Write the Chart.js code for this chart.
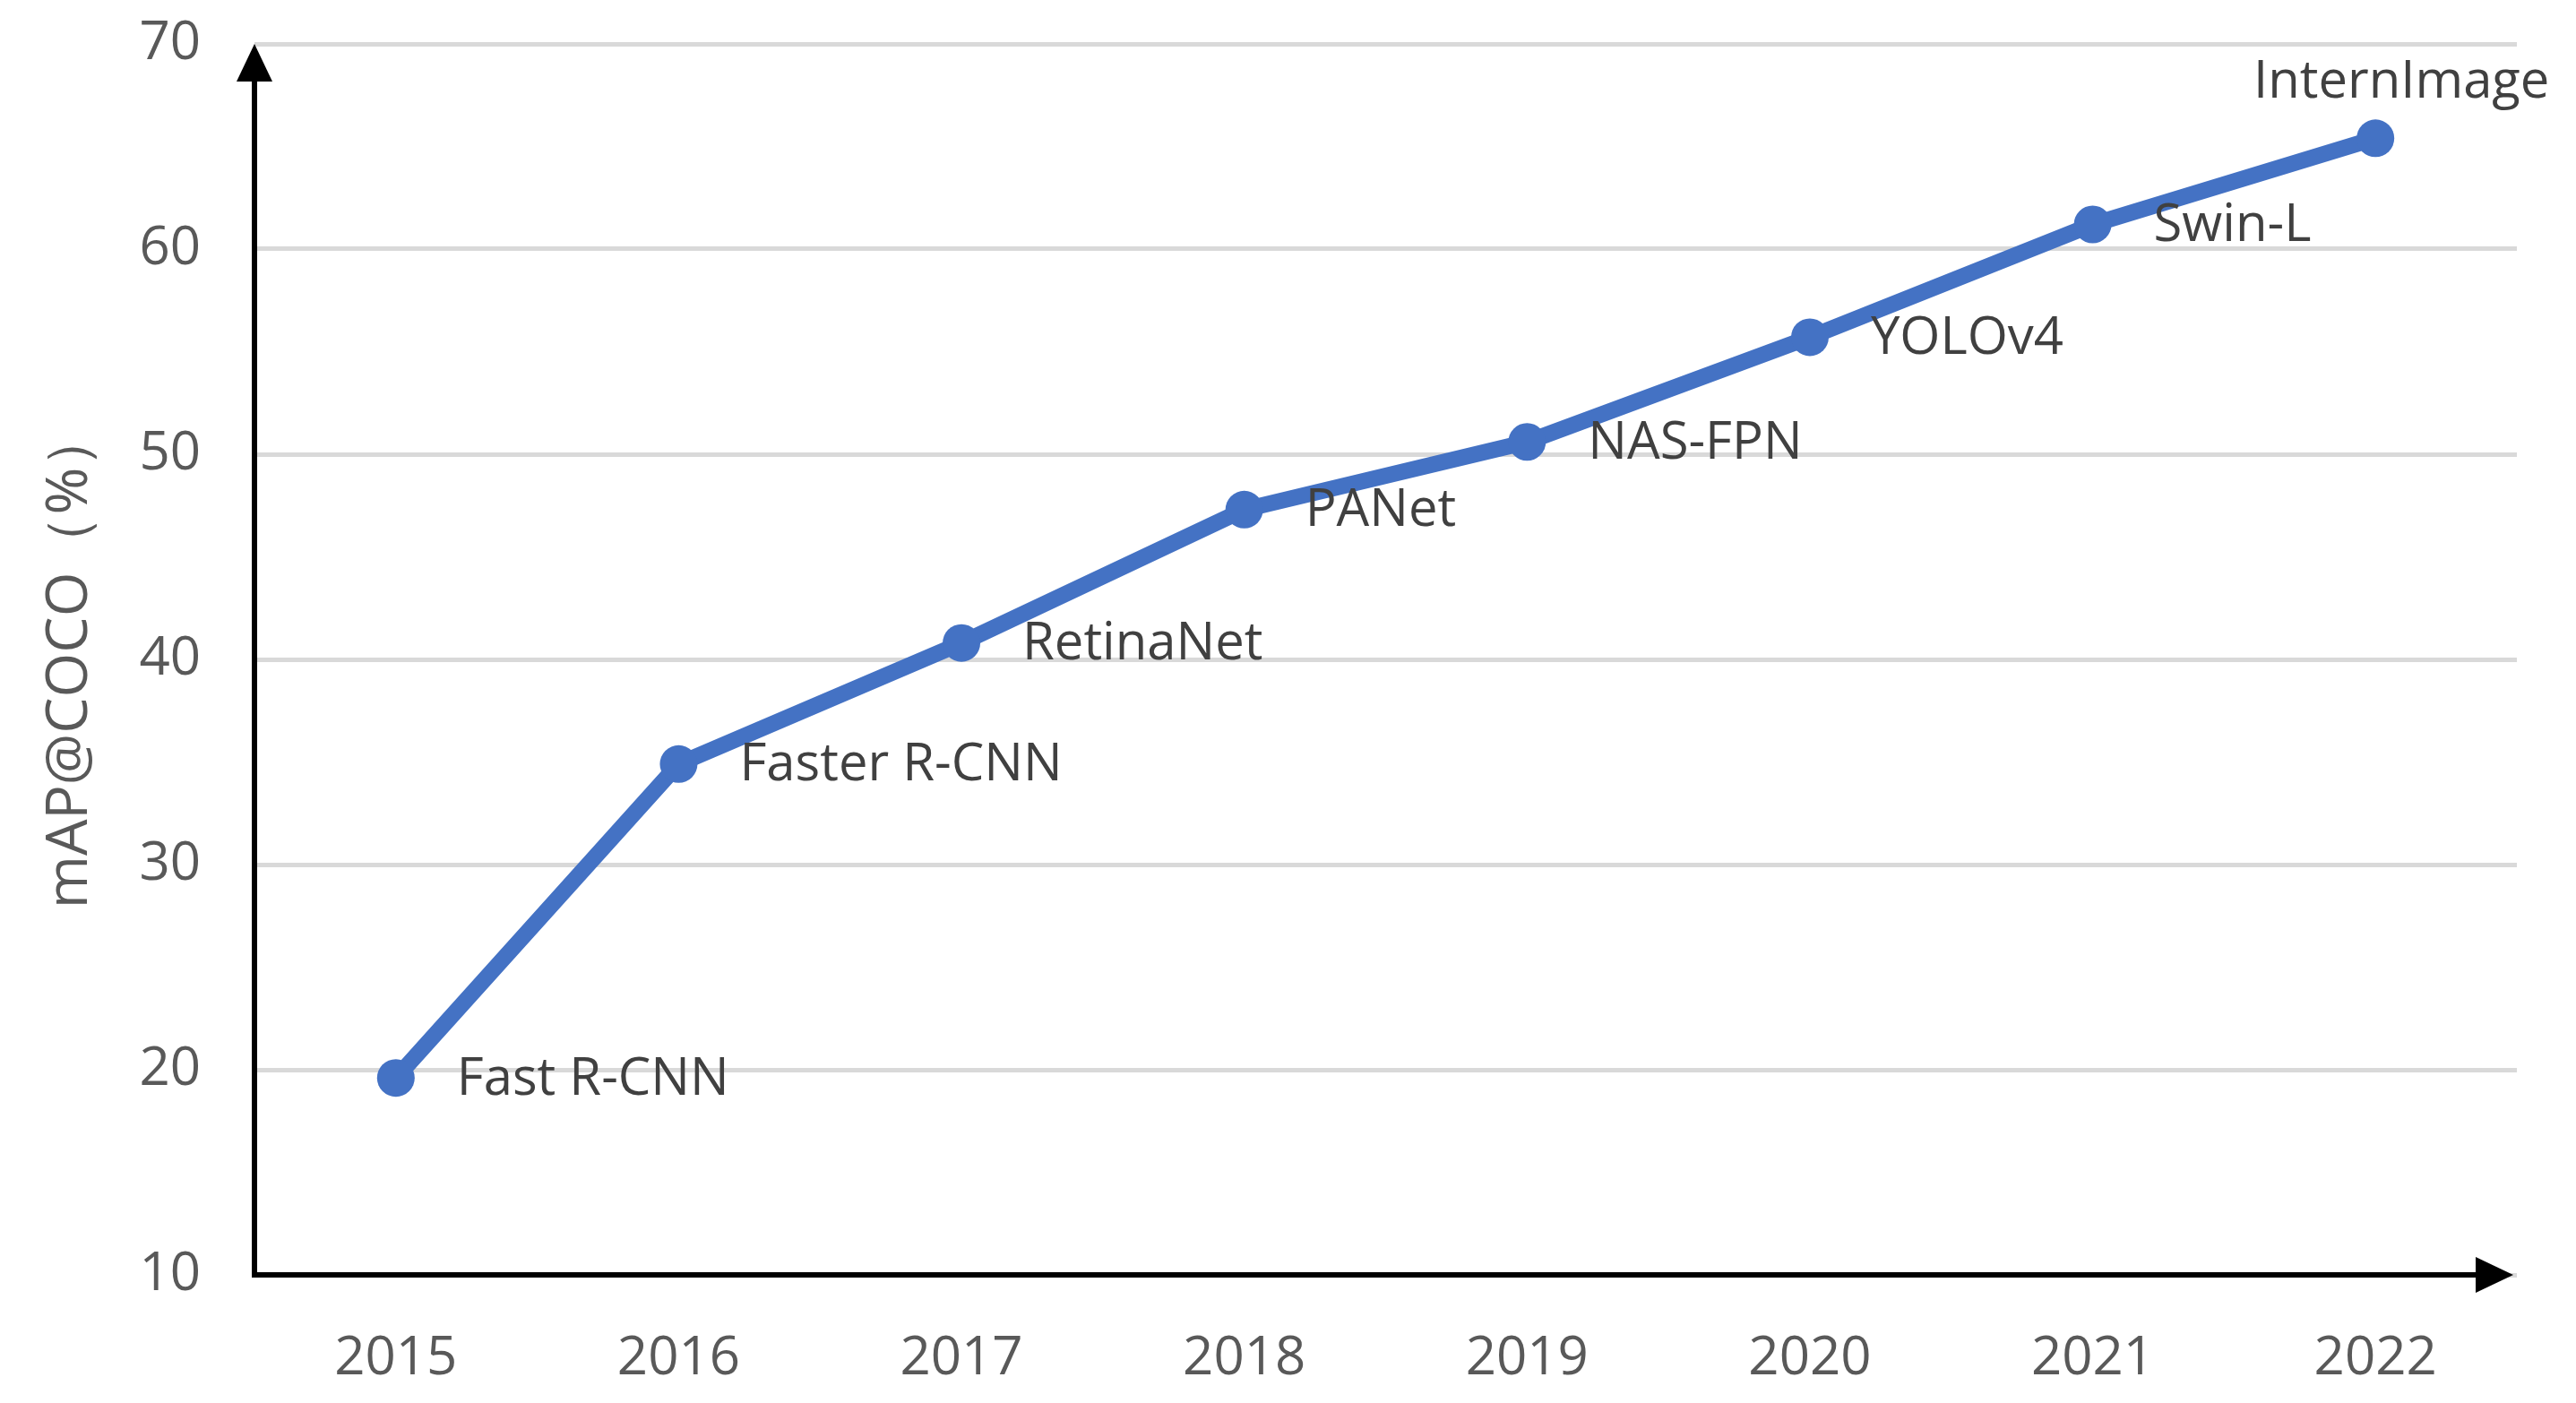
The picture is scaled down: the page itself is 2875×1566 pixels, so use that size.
<!DOCTYPE html>
<html>
<head>
<meta charset="utf-8">
<script src="https://cdn.jsdelivr.net/npm/chart.js@4"></script>
<style>
  html, body { margin: 0; padding: 0; background: #fff; }
  #wrap { width: 2875px; height: 1566px; }
</style>
</head>
<body>
<div id="wrap"><canvas id="map-chart"></canvas></div>
<script>
const years = ['2015', '2016', '2017', '2018', '2019', '2020', '2021', '2022']
const mapValues = [19.6, 34.9, 40.8, 47.3, 50.6, 55.7, 61.2, 65.4]
const modelNames = [
  'Fast R-CNN',
  'Faster R-CNN',
  'RetinaNet',
  'PANet',
  'NAS-FPN',
  'YOLOv4',
  'Swin-L',
  'InternImage',
]

const FONT = '"Open Sans", "DejaVu Sans", sans-serif'

// black axis lines with arrow heads, drawn like the Excel original
const arrowAxes = {
  id: 'arrowAxes',
  beforeDatasetsDraw(chart) {
    const { ctx, chartArea } = chart
    const { left, right, top, bottom } = chartArea
    ctx.save()
    ctx.strokeStyle = '#000'
    ctx.fillStyle = '#000'
    ctx.lineWidth = 6
    ctx.beginPath()
    ctx.moveTo(left, bottom)
    ctx.lineTo(left, top + 30)
    ctx.moveTo(left - 3, bottom)
    ctx.lineTo(right - 30, bottom)
    ctx.stroke()
    // up arrow
    ctx.beginPath()
    ctx.moveTo(left, top)
    ctx.lineTo(left - 20, top + 42)
    ctx.lineTo(left + 20, top + 42)
    ctx.closePath()
    ctx.fill()
    // right arrow
    ctx.beginPath()
    ctx.moveTo(right - 4, bottom)
    ctx.lineTo(right - 46, bottom - 20)
    ctx.lineTo(right - 46, bottom + 20)
    ctx.closePath()
    ctx.fill()
    ctx.restore()
  },
}

// model name next to each point
const pointNames = {
  id: 'pointNames',
  afterDatasetsDraw(chart) {
    const { ctx } = chart
    const pts = chart.getDatasetMeta(0).data
    ctx.save()
    ctx.font = '58px ' + FONT
    ctx.fillStyle = '#404040'
    ctx.textBaseline = 'middle'
    pts.forEach((p, i) => {
      if (i === pts.length - 1) {
        ctx.textAlign = 'center'
        ctx.fillText(modelNames[i], p.x + 29, p.y - 62)
      } else {
        ctx.textAlign = 'left'
        ctx.fillText(modelNames[i], p.x + 68, p.y + 2)
      }
    })
    ctx.restore()
  },
}

const data = {
  labels: years,
  datasets: [
    {
      label: 'mAP@COCO',
      data: mapValues,
      borderColor: '#4472C4',
      backgroundColor: '#4472C4',
      borderWidth: 18,
      pointRadius: 21,
      pointHoverRadius: 21,
      pointBorderWidth: 0,
      tension: 0,
    },
  ],
}

const config = {
  type: 'line',
  data,
  plugins: [arrowAxes, pointNames],
  options: {
    responsive: true,
    maintainAspectRatio: false,
    animation: false,
    layout: { padding: { left: 0, right: 66, top: 49, bottom: 0 } },
    plugins: {
      legend: { display: false },
      tooltip: { enabled: false },
    },
    scales: {
      x: {
        offset: true,
        grid: { display: false, drawTicks: false },
        border: { display: false },
        ticks: {
          color: '#595959',
          padding: 58,
          font: { family: FONT, size: 60 },
        },
        afterFit(scale) {
          scale.height = 143
          scale.paddingLeft = 0
          scale.paddingRight = 0
        },
      },
      y: {
        min: 10,
        max: 70,
        grid: { color: '#D9D9D9', lineWidth: 5, drawTicks: false },
        border: { display: false },
        ticks: {
          stepSize: 10,
          color: '#595959',
          padding: 60,
          font: { family: FONT, size: 60 },
        },
        title: {
          display: true,
          text: 'mAP@COCO（%）',
          color: '#595959',
          padding: { top: 40, bottom: 0 },
          font: { family: FONT, size: 64 },
        },
        afterFit(scale) {
          scale.width = 284
          scale.paddingTop = 0
          scale.paddingBottom = 0
        },
      },
    },
  },
}

new Chart(document.getElementById('map-chart'), config)
</script>
</body>
</html>
